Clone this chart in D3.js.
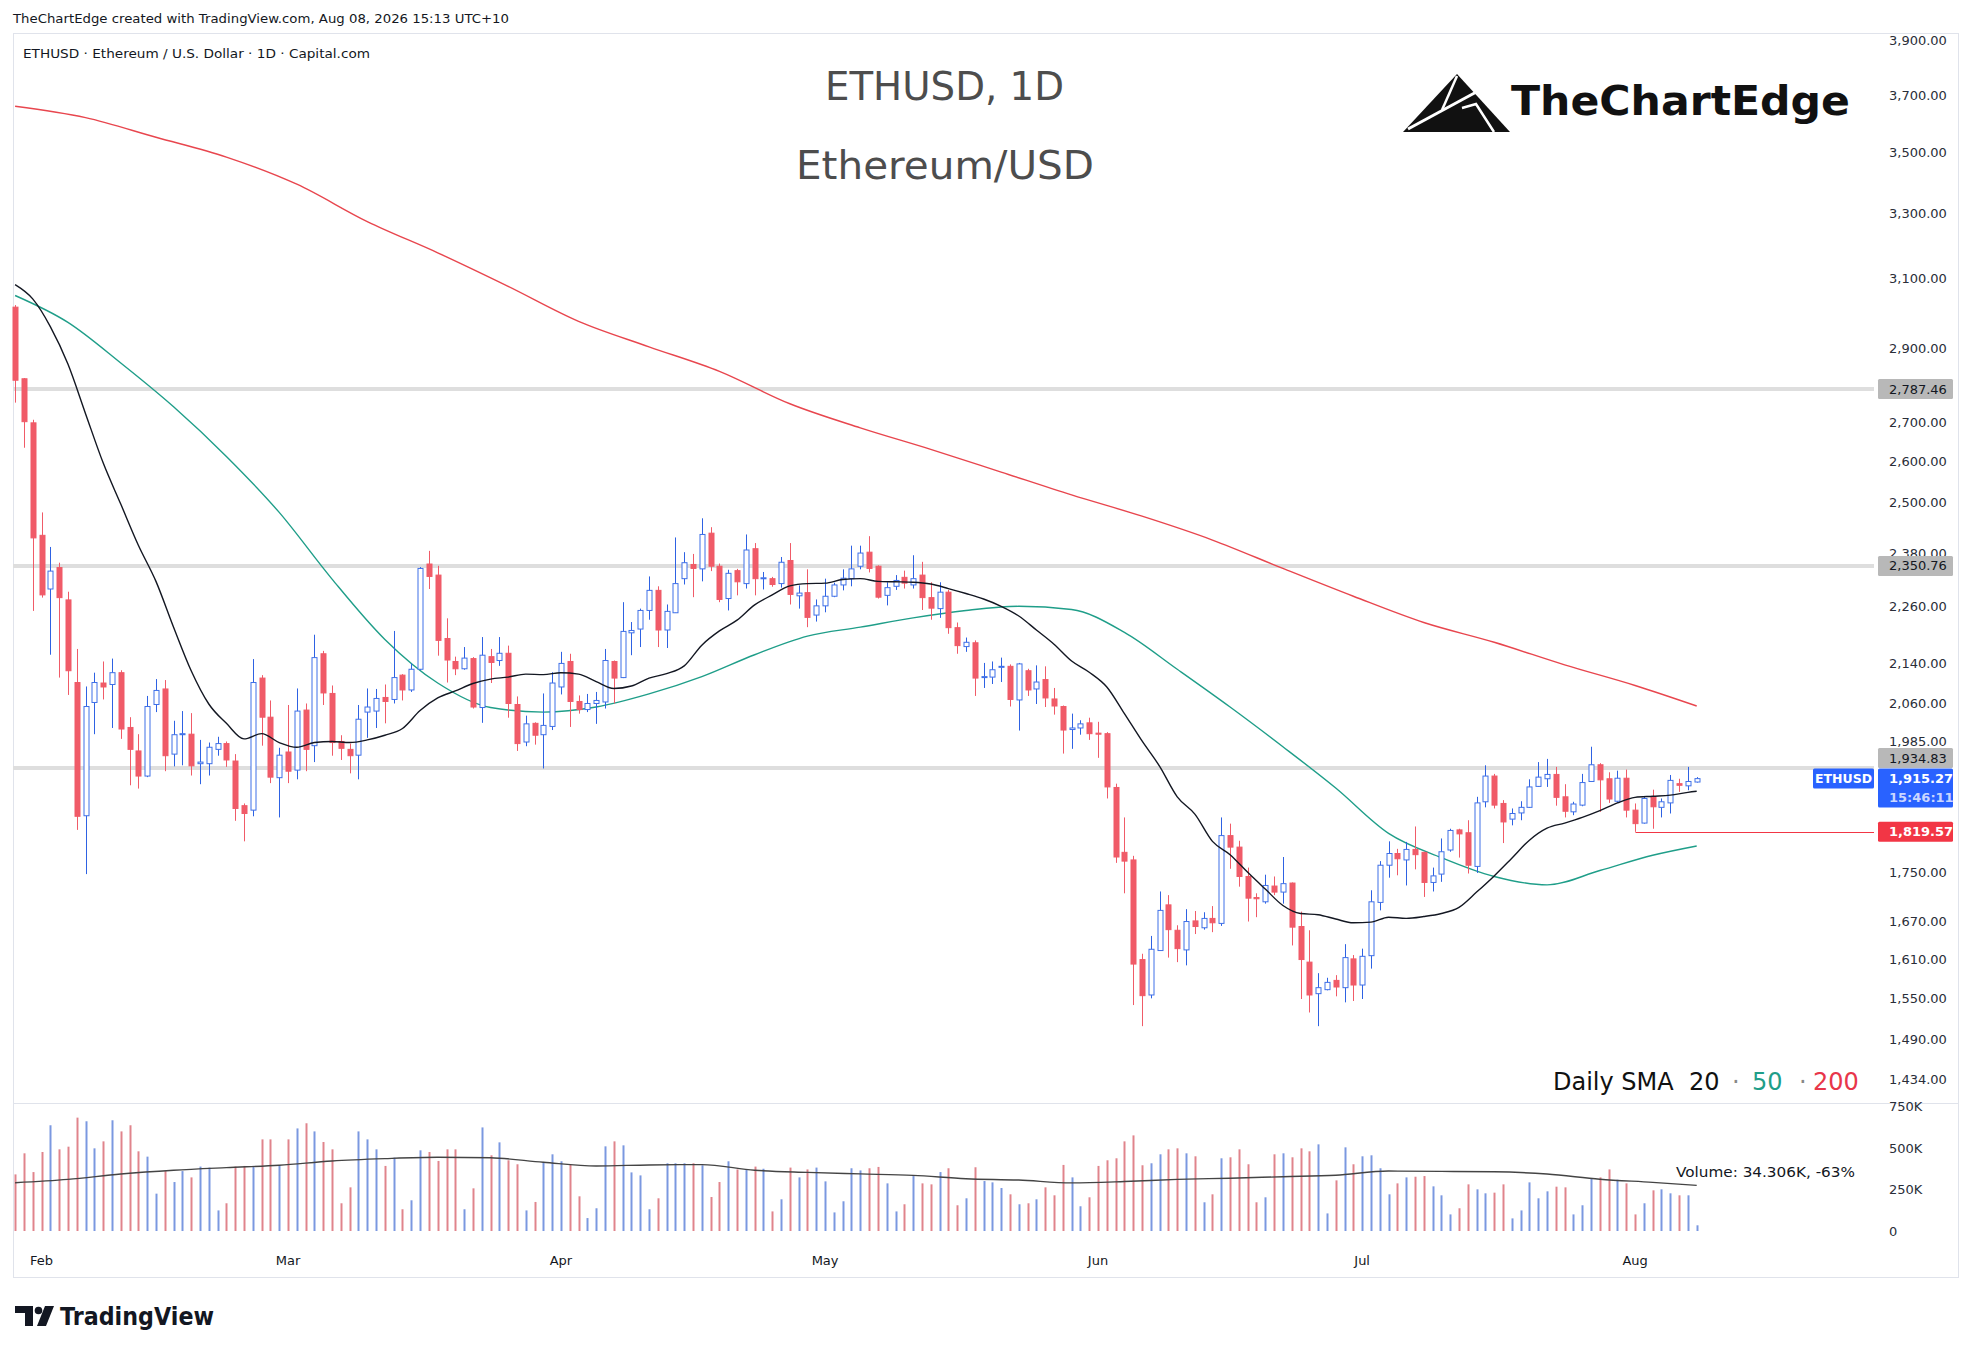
<!DOCTYPE html>
<html>
<head>
<meta charset="utf-8">
<script src="https://cdn.jsdelivr.net/npm/d3@7"></script>
<style>
  body { margin: 0; background: #fff; }
  text { font-family: "DejaVu Sans", "Noto Sans", sans-serif; }
</style>
</head>
<body>
<svg id="chart" width="1972" height="1353"></svg>
<script>
// daily bars, first bar = 2026-01-29
const firstDay = "2026-01-29";

const opens = [3016,2815,2698,2421,2299,2347,2275,2101,1848,2061,2100,2097,2121,2012,1967,1920,2057,2088,1961,1998,
  1999,1943,1943,1970,1981,1948,1866,1858,2110,2032,1917,1965,1931,2046,1977,2160,2079,1985,1970,1959,
  2042,2044,2071,2067,2116,2086,2128,2355,2330,2192,2144,2129,2150,2051,2154,2146,2161,2057,1984,2020,
  1998,2014,2092,2144,2063,2047,2059,2062,2144,2111,2204,2212,2252,2296,2210,2247,2322,2354,2344,2426,
  2350,2278,2340,2311,2390,2322,2322,2311,2363,2284,2291,2242,2262,2283,2308,2322,2350,2382,2350,2285,
  2305,2325,2308,2330,2280,2256,2292,2215,2175,2183,2111,2112,2132,2134,2066,2125,2088,2107,2068,2053,
  2008,2011,2021,2001,2000,1899,1784,1771,1609,1555,1623,1696,1655,1624,1670,1659,1674,1666,1813,1793,
  1743,1708,1701,1727,1717,1732,1661,1605,1557,1563,1577,1566,1610,1570,1615,1700,1762,1782,1771,1789,
  1784,1733,1747,1788,1823,1818,1760,1873,1920,1870,1842,1853,1863,1901,1915,1923,1882,1855,1867,1910,
  1941,1915,1874,1916,1858,1835,1881,1863,1871,1906,1902,1909];
const highs = [3022,2817,2706,2475,2394,2358,2293,2170,2093,2121,2144,2150,2126,2032,1999,2074,2108,2106,2025,2044,
  2040,1988,1983,1994,1985,1961,1870,2149,2116,2065,1973,2056,2089,2059,2200,2166,2095,1997,1981,2056,
  2089,2088,2097,2208,2118,2140,2348,2385,2351,2235,2154,2174,2153,2195,2170,2195,2177,2073,2035,2022,
  2079,2122,2164,2160,2075,2078,2082,2170,2146,2270,2227,2256,2327,2305,2265,2416,2382,2378,2461,2440,
  2356,2342,2344,2423,2403,2337,2326,2371,2403,2307,2343,2276,2322,2313,2343,2397,2397,2419,2352,2314,
  2330,2340,2375,2360,2314,2314,2297,2226,2194,2188,2141,2144,2152,2138,2141,2129,2136,2134,2090,2055,
  2039,2026,2031,2023,2003,1906,1845,1778,1618,1646,1718,1712,1663,1689,1686,1684,1694,1845,1834,1804,
  1758,1715,1746,1743,1776,1733,1685,1655,1588,1581,1585,1633,1616,1626,1720,1769,1803,1790,1802,1829,
  1785,1758,1808,1825,1825,1840,1882,1940,1924,1876,1861,1874,1914,1946,1952,1937,1905,1873,1924,1975,
  1944,1927,1930,1932,1870,1883,1895,1879,1922,1915,1937,1918];
const lows = [2751,2634,2251,2280,2158,2111,2076,1823,1747,1999,2067,2011,1990,1903,1897,1918,2042,1929,1938,1940,
  1921,1905,1921,1958,1937,1839,1803,1847,1977,1907,1845,1907,1914,1929,1946,2056,1958,1950,1925,1914,
  1992,2011,2020,2059,2065,2082,2126,2299,2156,2101,2116,2127,2049,2021,2100,2135,2031,1967,1976,1979,
  1934,2007,2077,2013,2039,2042,2019,2049,2059,2110,2157,2174,2232,2174,2172,2247,2309,2281,2316,2339,
  2270,2252,2285,2300,2285,2298,2304,2302,2265,2256,2216,2228,2248,2281,2296,2305,2343,2336,2278,2263,
  2297,2300,2300,2253,2232,2236,2202,2160,2164,2074,2090,2098,2102,2053,2006,2074,2058,2052,2037,1962,
  1971,1998,1988,1954,1879,1766,1715,1540,1509,1550,1623,1612,1605,1600,1649,1656,1652,1662,1756,1726,
  1669,1676,1698,1712,1698,1631,1549,1529,1509,1562,1553,1544,1546,1549,1595,1687,1741,1745,1728,1755,
  1709,1718,1734,1785,1775,1748,1749,1863,1861,1800,1831,1840,1862,1900,1900,1866,1845,1849,1865,1909,
  1855,1871,1871,1845,1819.57,1834,1825,1845,1852,1891,1894,1908];
const closes = [2811,2701,2415,2286,2339,2280,2125,1847,2053,2101,2092,2121,2009,1970,1920,2053,2085,1958,1998,2000,
  1939,1946,1974,1981,1950,1861,1852,2101,2032,1918,1959,1929,2044,1970,2152,2080,1983,1972,1958,2028,
  2052,2069,2063,2111,2086,2128,2345,2327,2188,2147,2129,2151,2052,2157,2142,2161,2059,1981,2019,1997,
  2016,2100,2140,2063,2047,2059,2065,2146,2110,2207,2209,2252,2296,2210,2250,2311,2358,2345,2423,2350,
  2276,2334,2315,2387,2322,2324,2309,2359,2287,2290,2237,2262,2283,2308,2323,2344,2380,2345,2281,2302,
  2318,2312,2322,2280,2257,2292,2215,2177,2184,2110,2113,2127,2134,2067,2139,2086,2102,2070,2054,2007,
  2011,2019,2000,1999,1900,1776,1769,1602,1554,1625,1687,1656,1626,1669,1661,1674,1667,1813,1793,1743,
  1707,1706,1728,1717,1731,1660,1609,1555,1566,1574,1567,1612,1570,1614,1701,1762,1782,1773,1789,1780,
  1733,1744,1785,1822,1816,1762,1871,1920,1867,1837,1852,1863,1900,1918,1923,1881,1856,1869,1908,1941,
  1913,1878,1916,1858,1834,1879,1864,1873,1912,1903,1910,1915.27];
// volume in thousands
const volumes = [341,468,355,476,637,492,508,683,661,498,540,667,600,637,480,448,225,361,295,361,
  323,388,382,124,167,388,392,392,552,552,396,552,618,649,600,536,492,167,263,600,
  552,492,392,442,131,185,486,476,422,492,492,131,257,624,456,534,426,402,124,175,
  416,462,420,398,209,78,137,510,540,516,353,335,131,197,408,408,408,408,396,205,
  295,420,371,367,388,375,118,191,382,323,371,382,299,112,179,378,365,378,386,287,
  118,161,331,287,281,355,378,155,197,384,301,293,259,221,161,167,191,263,215,398,
  323,149,203,392,426,438,540,576,396,408,462,492,498,468,450,173,221,438,444,492,
  402,173,203,462,468,444,498,480,522,106,305,504,402,450,456,378,221,287,323,327,
  331,269,215,100,137,281,251,227,231,281,76,124,293,197,239,267,263,100,155,315,
  323,371,309,287,100,167,245,251,227,215,215,34.306];

// moving averages: bar index -> value
const sma20Idx = [0,2,4,6,8,10,12,14,16,18,20,22,24,26,28,30,32,34,36,38,40,42,44,46,48,50,52,54,56,58,60,62,64,66,68,70,
  72,74,76,78,80,82,84,86,88,90,92,94,96,98,100,102,104,106,108,110,112,114,116,118,120,122,124,126,128,130,132,134,136,
  138,140,142,144,146,148,150,152,154,156,158,160,162,164,166,168,170,172,174,176,178,180,182,184,186,188,190,191];
const sma20Val = [3082,3040,2960,2855,2722,2596,2495,2398,2316,2216,2125,2058,2020,1990,2000,1983,1974,1983,1985,1983,1988,1997,
  2010,2045,2070,2084,2099,2108,2112,2118,2117,2121,2118,2103,2089,2094,2110,2119,2135,2178,2208,2231,2264,2286,2306,2311,2312,
  2320,2322,2316,2315,2314,2310,2300,2289,2277,2261,2240,2210,2180,2145,2122,2092,2039,1986,1938,1882,1851,1803,1780,1750,1722,
  1695,1682,1680,1673,1667,1668,1676,1674,1677,1682,1692,1717,1744,1774,1805,1826,1835,1845,1857,1871,1881,1883,1885,1890,1892];
const sma50Idx = [0,6,12,18,24,30,36,42,48,54,60,66,72,78,84,90,96,102,108,114,120,126,132,138,144,150,156,162,168,174,180,186,191];
const sma50Val = [3050,2972,2858,2740,2612,2475,2321,2190,2100,2051,2042,2052,2078,2113,2158,2197,2216,2236,2252,2261,2254,2205,
  2128,2052,1975,1898,1817,1775,1743,1729,1753,1779,1795];
const sma200Idx = [0,8,16,24,32,40,48,56,64,72,80,88,96,104,112,120,128,136,144,152,160,168,176,184,191];
const sma200Val = [3660,3620,3552,3485,3395,3275,3178,3077,2975,2903,2835,2748,2685,2630,2573,2517,2466,2410,2345,2283,2226,2184,
  2137,2095,2054];
const volMaIdx = [0,6,12,18,24,30,36,42,48,54,60,66,72,78,84,90,96,102,108,114,120,126,132,138,144,150,156,162,168,174,180,186,191];
const volMaVal = [291,311,343,366,382,396,422,436,444,441,414,392,398,400,366,353,344,335,315,307,290,298,311,318,327,336,361,359,
  357,343,312,293,275];

const priceTicks = [3900,3700,3500,3300,3100,2900,2700,2600,2500,2380,2260,2140,2060,1985,1830,1750,1670,1610,1550,1490,1434];
const volTicks = [0,250,500,750];
const levels = [2787.46, 2350.76, 1934.83];
const supportLevel = 1819.57;
const supportBar = 184;
const lastPrice = 1915.27;

// ---------- layout ----------
const svg = d3.select("#chart");
const plotL = 13, plotR = 1874, frameR = 1958, frameT = 33, frameB = 1277;
const RED = "#f05b68", BLUE = "#3f70e8", WICKBLUE = "#2e62e3";

const dates = opens.map((_, i) => d3.utcDay.offset(new Date(firstDay + "T00:00:00Z"), i));
const x = d3.scaleUtc().domain([dates[0], dates[dates.length - 1]]).range([15.1, 1696.7]);
const y = d3.scaleLog().domain([3900, 1434]).range([40.25, 1079.1]);
const yv = d3.scaleLinear().domain([0, 750]).range([1231, 1106.5]);
const bx = i => Math.round(x(dates[i])) + 0.5;

// frame
svg.append("rect").attr("x", plotL + 0.5).attr("y", frameT + 0.5)
  .attr("width", frameR - plotL).attr("height", frameB - frameT)
  .attr("fill", "none").attr("stroke", "#e0e3eb");
svg.append("line").attr("x1", plotL).attr("x2", frameR).attr("y1", 1103.5).attr("y2", 1103.5)
  .attr("stroke", "#e0e3eb");

// header texts
svg.append("text").attr("x", 13).attr("y", 19).attr("dy", "0.35em")
  .attr("font-size", 12.5).attr("fill", "#131722")
  .attr("textLength", 496).attr("lengthAdjust", "spacingAndGlyphs")
  .text("TheChartEdge created with TradingView.com, Aug 08, 2026 15:13 UTC+10");
svg.append("text").attr("x", 23).attr("y", 53).attr("dy", "0.35em")
  .attr("font-size", 13).attr("fill", "#131722")
  .attr("textLength", 347).attr("lengthAdjust", "spacingAndGlyphs")
  .text("ETHUSD · Ethereum / U.S. Dollar · 1D · Capital.com");

// title
svg.append("text").attr("x", 825).attr("y", 86).attr("dy", "0.36em")
  .attr("font-family", "Open Sans, Noto Sans, sans-serif").attr("font-size", 39).attr("fill", "#4d4d4d")
  .attr("textLength", 239).attr("lengthAdjust", "spacingAndGlyphs").text("ETHUSD, 1D");
svg.append("text").attr("x", 796).attr("y", 165).attr("dy", "0.36em")
  .attr("font-family", "Open Sans, Noto Sans, sans-serif").attr("font-size", 39).attr("fill", "#4d4d4d")
  .attr("textLength", 298).attr("lengthAdjust", "spacingAndGlyphs").text("Ethereum/USD");

// logo
const logo = svg.append("g");
logo.append("path").attr("d", "M1403,132 L1457,74 L1510,132 Z").attr("fill", "#111");
logo.append("path").attr("d", "M1408,129 L1480,90").attr("stroke", "#fff").attr("stroke-width", 3);
logo.append("path").attr("d", "M1457,76 L1442,110").attr("stroke", "#fff").attr("stroke-width", 2.5);
logo.append("path").attr("d", "M1462,108 L1476,104 L1494,132").attr("stroke", "#fff").attr("stroke-width", 2.5).attr("fill", "none");
logo.append("text").attr("x", 1511).attr("y", 115)
  .attr("font-family", "Open Sans, Lato, sans-serif").attr("font-weight", 700).attr("font-size", 41).attr("fill", "#111")
  .attr("textLength", 339).attr("lengthAdjust", "spacingAndGlyphs").text("TheChartEdge");

// horizontal levels
svg.append("g").selectAll("line").data(levels).join("line")
  .attr("x1", plotL).attr("x2", plotR).attr("y1", d => y(d)).attr("y2", d => y(d))
  .attr("stroke", "#dedede").attr("stroke-width", 4);
svg.append("line").attr("x1", bx(supportBar)).attr("x2", plotR)
  .attr("y1", Math.round(y(supportLevel)) + 0.5).attr("y2", Math.round(y(supportLevel)) + 0.5)
  .attr("stroke", "#f23645").attr("stroke-width", 1);

// moving averages
const maLine = (idx, vals, sc) => d3.line()
  .x((d, k) => x(dates[idx[k]])).y(d => sc(d)).curve(d3.curveMonotoneX)(vals);
svg.append("path").attr("d", maLine(sma200Idx, sma200Val, y)).attr("fill", "none").attr("stroke", "#e8464e").attr("stroke-width", 1.4);
svg.append("path").attr("d", maLine(sma50Idx, sma50Val, y)).attr("fill", "none").attr("stroke", "#1f9e89").attr("stroke-width", 1.4);

// candles
const bars = d3.range(opens.length);
const cg = svg.append("g");
cg.selectAll("line").data(bars).join("line")
  .attr("x1", bx).attr("x2", bx)
  .attr("y1", i => y(highs[i])).attr("y2", i => y(lows[i]))
  .attr("stroke", i => closes[i] >= opens[i] ? WICKBLUE : RED).attr("stroke-width", 1);
cg.selectAll("rect").data(bars).join("rect")
  .attr("x", i => bx(i) - 2.5)
  .attr("width", 5)
  .attr("y", i => y(Math.max(opens[i], closes[i])))
  .attr("height", i => Math.max(1, y(Math.min(opens[i], closes[i])) - y(Math.max(opens[i], closes[i]))))
  .attr("fill", i => closes[i] >= opens[i] ? "#fff" : RED)
  .attr("stroke", i => closes[i] >= opens[i] ? BLUE : RED).attr("stroke-width", 1);

svg.append("path").attr("d", maLine(sma20Idx, sma20Val, y)).attr("fill", "none").attr("stroke", "#131722").attr("stroke-width", 1.4);

// volume
svg.append("g").selectAll("line").data(bars).join("line")
  .attr("x1", bx).attr("x2", bx)
  .attr("y1", yv(0)).attr("y2", i => yv(volumes[i]))
  .attr("stroke", i => closes[i] >= opens[i] ? "#7b98e0" : "#e0848c").attr("stroke-width", 2);
svg.append("path").attr("d", maLine(volMaIdx, volMaVal, yv)).attr("fill", "none").attr("stroke", "#444").attr("stroke-width", 1.4);
svg.append("text").attr("x", 1676).attr("y", 1172).attr("dy", "0.35em")
  .attr("font-size", 14).attr("fill", "#131722")
  .attr("textLength", 179).attr("lengthAdjust", "spacingAndGlyphs").text("Volume: 34.306K, -63%");

// SMA legend
const legendParts = [
  { t: "Daily SMA", x: 1553, c: "#111" },
  { t: "20", x: 1689, c: "#111" },
  { t: "·", x: 1732, c: "#888" },
  { t: "50", x: 1752, c: "#1f9e89" },
  { t: "·", x: 1799, c: "#888" },
  { t: "200", x: 1813, c: "#e8364a" }
];
svg.append("g").selectAll("text").data(legendParts).join("text")
  .attr("x", d => d.x).attr("y", 1082).attr("dy", "0.35em")
  .attr("font-family", "Open Sans, Noto Sans, sans-serif").attr("font-size", 24).attr("font-weight", 500)
  .attr("fill", d => d.c).text(d => d.t);

// price axis
const ax = svg.append("g").attr("transform", "translate(1885,0)")
  .call(d3.axisRight(y).tickValues(priceTicks).tickFormat(d3.format(",.2f")).tickSize(0).tickPadding(4));
ax.select(".domain").remove();
ax.selectAll("text").attr("font-size", 13).attr("fill", "#2a2e39").attr("font-family", "DejaVu Sans, sans-serif");

const vax = svg.append("g").attr("transform", "translate(1885,0)")
  .call(d3.axisRight(yv).tickValues(volTicks).tickFormat(d => d === 0 ? "0" : d + "K").tickSize(0).tickPadding(4));
vax.select(".domain").remove();
vax.selectAll("text").attr("font-size", 13).attr("fill", "#2a2e39").attr("font-family", "DejaVu Sans, sans-serif");

// price tags on the axis
function tag(yc, h, bg, lines, colors) {
  svg.append("rect").attr("x", 1878).attr("y", yc - 10).attr("width", 75).attr("height", h)
    .attr("rx", 1.5).attr("fill", bg);
  lines.forEach((t, k) => {
    svg.append("text").attr("x", 1889).attr("y", yc + k * 19).attr("dy", "0.35em")
      .attr("font-size", 13).attr("font-weight", bg === "#b8b8b8" ? 400 : 700)
      .attr("fill", colors[k]).text(t);
  });
}
tag(y(levels[0]), 20, "#b8b8b8", [d3.format(",.2f")(levels[0])], ["#131722"]);
tag(y(levels[1]), 20, "#b8b8b8", [d3.format(",.2f")(levels[1])], ["#131722"]);
tag(y(lastPrice) - 20.5, 20, "#b8b8b8", [d3.format(",.2f")(levels[2])], ["#131722"]);
tag(y(lastPrice), 39, "#2962ff", [d3.format(",.2f")(lastPrice), "15:46:11"], ["#fff", "#c9d6ff"]);
tag(y(supportLevel), 20, "#f23645", [d3.format(",.2f")(supportLevel)], ["#fff"]);

svg.append("rect").attr("x", 1813).attr("y", y(lastPrice) - 10).attr("width", 61).attr("height", 20)
  .attr("rx", 1.5).attr("fill", "#2962ff");
svg.append("text").attr("x", 1843.5).attr("y", y(lastPrice)).attr("dy", "0.35em").attr("text-anchor", "middle")
  .attr("font-size", 12.5).attr("font-weight", 700).attr("fill", "#fff").text("ETHUSD");

// time axis
const monthStarts = d3.utcMonth.range(d3.utcMonth.ceil(dates[0]), dates[dates.length - 1]);
svg.append("g").selectAll("text").data(monthStarts).join("text")
  .attr("x", d => x(d)).attr("y", 1260).attr("dy", "0.35em").attr("text-anchor", "middle")
  .attr("font-size", 13).attr("fill", "#131722").text(d3.utcFormat("%b"));

// TradingView mark
const tv = svg.append("g").attr("fill", "#131722");
tv.append("path").attr("d", "M15,1306 H33 V1326 H25 V1313 H15 Z");
tv.append("circle").attr("cx", 38.5).attr("cy", 1310.5).attr("r", 3.8);
tv.append("path").attr("d", "M45,1306 H54 L46,1326 H37 Z");
tv.append("text").attr("x", 60).attr("y", 1316).attr("dy", "0.35em")
  .attr("font-family", "Open Sans, Noto Sans, sans-serif").attr("font-weight", 700).attr("font-size", 25)
  .attr("textLength", 154).attr("lengthAdjust", "spacingAndGlyphs").text("TradingView");
</script>
</body>
</html>
